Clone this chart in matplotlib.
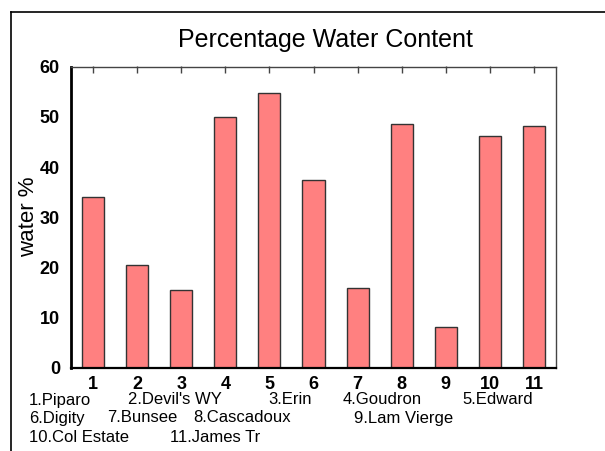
import matplotlib
matplotlib.use("Agg")
import matplotlib.pyplot as plt
from matplotlib.lines import Line2D

# Données
site_numbers = list(range(1, 12))
site_names = ["Piparo", "Devil's WY", "Erin", "Goudron", "Edward", "Digity",
              "Bunsee", "Cascadoux", "Lam Vierge", "Col Estate", "James Tr"]
water_pct = [34.0, 20.5, 15.5, 50.0, 54.7, 37.4, 15.9, 48.6, 8.1, 46.2, 48.2]
y_ticks = [0, 10, 20, 30, 40, 50, 60]

# Position (pixels) des légendes texte sous l'axe, ligne par ligne
name_rows = [[0, 1, 2, 3, 4], [5, 6, 7, 8], [9, 10]]
name_x = [[29, 128, 268, 343, 462], [29, 107, 193, 354], [29, 170]]
name_y = [400, 418, 437]

W, H = 605, 451
plt.rcParams['font.family'] = ['Liberation Sans', 'DejaVu Sans']

fig = plt.figure(figsize=(W / 100, H / 100), dpi=100)
ax = fig.add_axes([71 / W, 1 - 368 / H, 485 / W, 301.5 / H])

ax.bar(site_numbers, water_pct, width=0.5, color="#FF8080",
       edgecolor="#333333", linewidth=1.0)

ax.set_xlim(0.5, 11.5)
ax.set_ylim(0, 60)
ax.set_yticks(y_ticks)
ax.set_xticks(site_numbers)
ax.tick_params(axis='both', which='both', length=0, labelsize=13)
ax.tick_params(axis='y', pad=8)
ax.tick_params(axis='x', pad=6)
for lab in ax.get_xticklabels() + ax.get_yticklabels():
    lab.set_fontweight('bold')

# Graduations en haut, vers l'intérieur
ax_top = ax.secondary_xaxis('top')
ax_top.set_xticks(site_numbers)
ax_top.set_xticklabels([])
ax_top.tick_params(direction='in', length=5, width=1, color="#444444")
ax_top.spines['top'].set_visible(False)

ax.spines['left'].set_linewidth(2)
ax.spines['left'].set_color('black')
ax.spines['bottom'].set_linewidth(1.6)
ax.spines['bottom'].set_color('black')
ax.spines['top'].set_linewidth(1)
ax.spines['top'].set_color('#444444')
ax.spines['right'].set_linewidth(1)
ax.spines['right'].set_color('#444444')

fig.text(325 / W, 1 - 40 / H, "Percentage Water Content", fontsize=18,
         ha='center', va='center')
fig.text(29 / W, 1 - 217 / H, "water %", fontsize=16, rotation=90,
         ha='center', va='center')

for row, xs, y in zip(name_rows, name_x, name_y):
    for i, x in zip(row, xs):
        fig.text(x / W, 1 - y / H, f"{site_numbers[i]}.{site_names[i]}",
                 fontsize=12, ha='left', va='center')

# Cadre extérieur (bords gauche et haut visibles)
fig.add_artist(Line2D([10.7 / W, 10.7 / W], [0, 1 - 11.7 / H],
                      transform=fig.transFigure, color='black', linewidth=1.2))
fig.add_artist(Line2D([10.7 / W, 1], [1 - 11.7 / H, 1 - 11.7 / H],
                      transform=fig.transFigure, color='black', linewidth=1.2))

fig.savefig("out.png", dpi=100)
